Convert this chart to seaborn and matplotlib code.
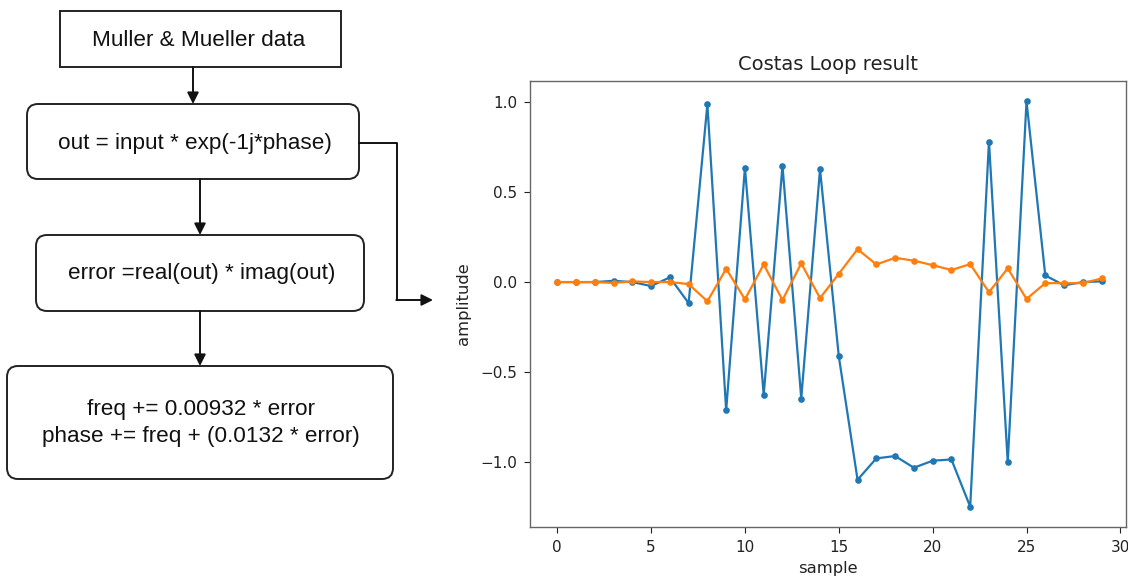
import numpy as np
import pandas as pd
import matplotlib
matplotlib.use("Agg")
import matplotlib.pyplot as plt
import seaborn as sns
from matplotlib.patches import FancyBboxPatch, Rectangle

# ---- data ----
samples = list(range(30))
real_part = [0.0, 0.0, 0.0, 0.007, 0.0, -0.022, 0.026, -0.117, 0.989, -0.714,
             0.637, -0.628, 0.648, -0.648, 0.628, -0.413, -1.10, -0.981, -0.968, -1.033,
             -0.994, -0.987, -1.25, 0.782, -1.003, 1.006, 0.037, -0.018, 0.0, 0.004]
imag_part = [0.0, 0.0, 0.0, -0.005, 0.004, 0.0, 0.0, -0.011, -0.107, 0.074,
             -0.096, 0.098, -0.100, 0.104, -0.089, 0.046, 0.183, 0.098, 0.135, 0.119,
             0.094, 0.067, 0.100, -0.056, 0.076, -0.094, -0.006, -0.006, -0.006, 0.020]

title_text = "Costas Loop result"
x_label = "sample"
y_label = "amplitude"
box_texts = ["Muller & Mueller data",
             "out = input * exp(-1j*phase)",
             "error =real(out) * imag(out)",
             "freq += 0.00932 * error\nphase += freq + (0.0132 * error)"]

W, H = 1128, 578
fig = plt.figure(figsize=(W / 100, H / 100), dpi=100)

# ---- chart ----
ax = fig.add_axes([530 / W, 1 - 527 / H, (1126 - 530) / W, (527 - 81) / H])
df = pd.DataFrame({"sample": samples, "real": real_part, "imag": imag_part})
sns.lineplot(data=df, x="sample", y="real", ax=ax, color="#1f77b4", lw=1.6,
             marker="o", markersize=4.8, markeredgewidth=0)
sns.lineplot(data=df, x="sample", y="imag", ax=ax, color="#ff7f0e", lw=1.6,
             marker="o", markersize=4.8, markeredgewidth=0)
ax.set_xlim(-1.45, 30.3)
ax.set_xticks([0, 5, 10, 15, 20, 25, 30])
ax.set_yticks([-1.0, -0.5, 0.0, 0.5, 1.0])
ax.tick_params(labelsize=11, colors="#222222", length=4, pad=5)
ax.set_title(title_text, fontsize=14, pad=8, color="#222222")
ax.set_xlabel(x_label, fontsize=11.8, labelpad=5, color="#222222")
ax.set_ylabel(y_label, fontsize=11.8, labelpad=7, color="#222222")
for s in ax.spines.values():
    s.set_color("#666666")
    s.set_linewidth(1.0)

# ---- flowchart ----
fa = fig.add_axes([0, 0, 1, 1], zorder=-1)
fa.set_xlim(0, W)
fa.set_ylim(H, 0)
fa.axis("off")

font = dict(family=["Liberation Sans", "DejaVu Sans"], fontsize=16.2, color="#111111",
            ha="center", va="center")

fa.add_patch(Rectangle((60, 11), 281, 56, fill=False, lw=1.4, ec="#222222"))
fa.text(199, 40, box_texts[0], **font)

def rbox(x0, y0, x1, y1):
    fa.add_patch(FancyBboxPatch((x0 + 11, y0 + 11), x1 - x0 - 22, y1 - y0 - 22,
                                boxstyle="round,pad=11", fill=False, lw=1.4, ec="#222222"))

rbox(27, 104, 359, 179)
fa.text(195, 143, box_texts[1], **font)
rbox(36, 235, 364, 311)
fa.text(202, 273, box_texts[2], **font)
rbox(7, 366, 393, 479)
fa.text(201, 423, box_texts[3], linespacing=1.38, **font)

arr = dict(arrowstyle="-|>", color="#111111", lw=1.4, mutation_scale=17,
           shrinkA=0, shrinkB=0)
fa.annotate("", xy=(193, 104), xytext=(193, 67), arrowprops=arr)
fa.annotate("", xy=(200, 235), xytext=(200, 179), arrowprops=arr)
fa.annotate("", xy=(200, 366), xytext=(200, 311), arrowprops=arr)
fa.plot([359, 397, 397], [143, 143, 300], color="#111111", lw=1.4)
fa.annotate("", xy=(433, 300), xytext=(396.3, 300), arrowprops=arr)

fig.savefig("out.png", dpi=100)
